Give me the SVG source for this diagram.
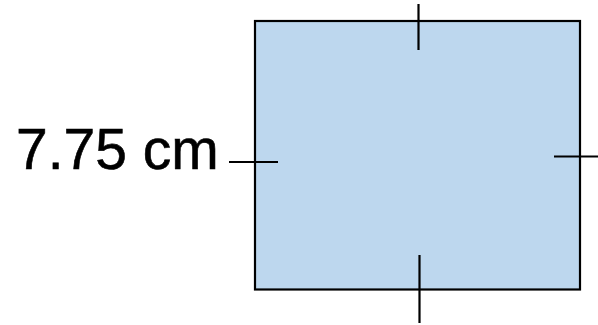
<svg xmlns="http://www.w3.org/2000/svg" width="598" height="325" viewBox="0 0 598 325">
<style>
.tick{stroke:#000;stroke-width:2.2;fill:none}
.lbl{font-family:"Liberation Sans",Arial,sans-serif;font-size:57px;fill:#000}
</style>
<rect width="598" height="325" fill="#fff"/>
<g id="square">
<rect x="255" y="21" width="325" height="268.5" fill="#BDD7EE" stroke="#000" stroke-width="2.2"/>
</g>
<g id="ticks">
<line class="tick" x1="418.5" y1="4" x2="418.5" y2="50"/>
<line class="tick" x1="419.5" y1="255" x2="419.5" y2="323"/>
<line class="tick" x1="554" y1="156.5" x2="598" y2="156.5"/>
<line class="tick" x1="229" y1="162" x2="278" y2="162"/>
</g>
<g id="label">
<text class="lbl" x="16" y="169" stroke="#000" stroke-width="0.6">7.75 cm</text>
</g>
</svg>
